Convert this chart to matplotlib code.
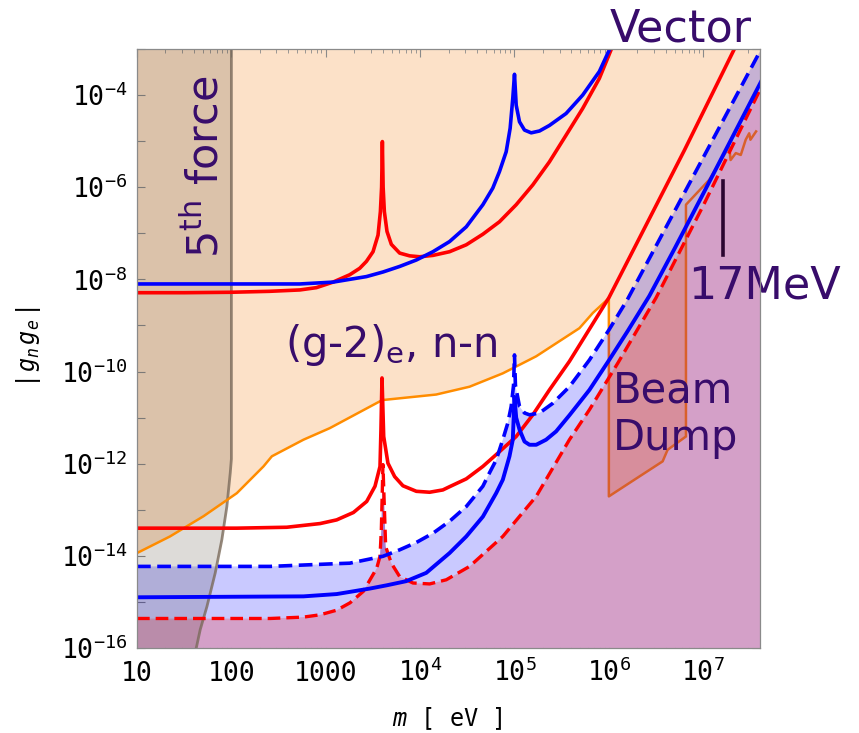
import numpy as np
import matplotlib
matplotlib.use('Agg')
import matplotlib.pyplot as plt

plt.rcParams['mathtext.fontset'] = 'custom'
plt.rcParams['mathtext.rm'] = 'DejaVu Sans Mono'
plt.rcParams['mathtext.it'] = 'DejaVu Sans Mono:italic'
plt.rcParams['mathtext.sf'] = 'DejaVu Sans'

# all curves as log10(m/eV), log10|g_n g_e|
orange_lm = [1.0, 1.349, 1.705, 2.058, 2.34, 2.429, 2.764, 3.042, 3.571, 3.6, 4.17, 4.524, 4.876, 5.23, 5.688, 5.83, 6.0, 6.0]
orange_lg = [-13.94, -13.58, -13.14, -12.64, -12.06, -11.84, -11.48, -11.23, -10.65, -10.62, -10.50, -10.33, -10.04, -9.67, -9.06, -8.73, -8.41, -9.2]

fifth_lm = [1.0, 2.0, 2.0, 1.988, 1.952, 1.899, 1.829, 1.741, 1.67, 1.628, 1.0]
fifth_lg = [-3.0, -3.0, -11.9, -12.20, -12.93, -13.65, -14.37, -15.10, -15.60, -16.0, -16.0]

red_top_lm = [1.0, 1.5, 2.0, 2.4, 2.725, 2.901, 3.077, 3.254, 3.36, 3.431, 3.501, 3.554, 3.579, 3.592, 3.600,
              3.608, 3.621, 3.649, 3.695, 3.783, 3.889, 3.995, 4.136, 4.312, 4.489, 4.665, 4.841, 5.018,
              5.194, 5.37, 5.547, 5.723, 5.899, 6.023]
red_top_lg = [-8.29, -8.29, -8.28, -8.26, -8.23, -8.18, -8.06, -7.90, -7.76, -7.61, -7.40, -7.04, -6.53, -6.0, -5.01,
              -6.0, -6.53, -6.96, -7.24, -7.43, -7.49, -7.51, -7.48, -7.40, -7.25, -7.02, -6.75, -6.38,
              -5.95, -5.45, -4.87, -4.29, -3.64, -3.02]

blue_top_lm = [1.0, 2.0, 2.5, 2.725, 3.077, 3.431, 3.607, 3.783, 3.96, 4.136, 4.312, 4.489, 4.665, 4.77, 4.841,
               4.912, 4.954, 4.982, 5.0, 5.018, 5.053, 5.106, 5.177, 5.265, 5.37, 5.547, 5.723, 5.899, 6.005]
blue_top_lg = [-8.10, -8.10, -8.10, -8.10, -8.06, -7.94, -7.84, -7.72, -7.58, -7.40, -7.18, -6.86, -6.38, -6.02, -5.66,
               -5.23, -4.72, -4.07, -3.55, -4.22, -4.58, -4.76, -4.82, -4.78, -4.66, -4.40, -4.00, -3.49, -3.02]

red_mid_lm = [1.0, 2.058, 2.587, 2.94, 3.116, 3.293, 3.434, 3.522, 3.575, 3.585, 3.596, 3.614, 3.659, 3.73, 3.818,
              3.96, 4.101, 4.241, 4.312, 4.489, 4.665, 4.841, 5.018, 5.194, 5.37, 5.582, 6.0, 6.4, 6.8, 7.33]
red_mid_lg = [-13.40, -13.40, -13.38, -13.30, -13.22, -13.06, -12.82, -12.49, -12.06, -11.27, -10.14, -11.41, -11.99,
              -12.28, -12.48, -12.60, -12.62, -12.57, -12.50, -12.33, -12.06, -11.74, -11.41, -10.94, -10.40, -9.78,
              -8.40, -6.80, -5.20, -3.0]

red_lo_lm = [1.0, 2.411, 2.764, 2.94, 3.116, 3.257, 3.399, 3.469, 3.54, 3.575, 3.589, 3.606, 3.635, 3.695, 3.783,
             3.924, 4.101, 4.277, 4.524, 4.876, 5.23, 5.582, 5.794, 6.1, 6.5, 7.0, 7.61]
red_lo_lg = [-15.36, -15.36, -15.33, -15.28, -15.18, -15.02, -14.77, -14.52, -14.27, -14.01, -13.43, -12.02, -13.80,
             -14.16, -14.45, -14.59, -14.61, -14.52, -14.23, -13.58, -12.71, -11.48, -10.83, -9.80, -8.40, -6.40, -3.85]

blue_dash_lm = [1.0, 2.196, 2.411, 3.116, 3.254, 3.607, 3.783, 3.96, 4.136, 4.312, 4.489, 4.665, 4.735, 4.806, 4.876,
                4.929, 4.965, 4.99, 5.0, 5.01, 5.053, 5.106, 5.159, 5.265, 5.406, 5.582, 5.794, 6.0, 6.196, 6.9, 7.61]
blue_dash_lg = [-14.23, -14.23, -14.23, -14.17, -14.16, -14.01, -13.87, -13.71, -13.51, -13.25, -12.93, -12.49, -12.20,
                -11.92, -11.48, -11.12, -10.76, -10.3, -9.64, -10.3, -10.76, -10.90, -10.94, -10.90, -10.69, -10.33,
                -9.75, -9.10, -8.44, -5.74, -3.02]

blue_sol_lm = [1.0, 2.764, 3.116, 3.293, 3.469, 3.646, 3.853, 4.065, 4.312, 4.489, 4.665, 4.806, 4.876, 4.947, 4.982,
               5.0, 5.018, 5.053, 5.106, 5.159, 5.23, 5.335, 5.441, 5.582, 5.794, 6.0, 6.2, 6.429, 6.7, 7.0, 7.61]
blue_sol_lg = [-14.90, -14.88, -14.83, -14.77, -14.71, -14.64, -14.55, -14.37, -13.94, -13.58, -13.15, -12.64, -12.35,
               -11.84, -11.48, -10.55, -11.0, -11.26, -11.52, -11.59, -11.59, -11.48, -11.30, -10.95, -10.40, -9.76,
               -9.12, -8.36, -7.32, -6.14, -3.72]

beam_lm = [6.0, 6.0, 6.217, 6.57, 6.622, 6.817, 6.817, 7.064, 7.275, 7.29, 7.345, 7.398, 7.45, 7.487, 7.5, 7.56]
beam_lg = [-9.2, -12.71, -12.42, -11.95, -11.70, -11.41, -6.38, -5.84, -5.12, -5.41, -5.26, -5.30, -4.97, -4.83, -4.97, -4.79]
beam_fill_lm = [6.0, 6.0, 6.217, 6.57, 6.622, 6.817, 6.817, 6.5, 6.1, 6.0]
beam_fill_lg = [-10.1, -12.71, -12.42, -11.95, -11.70, -11.41, -7.13, -8.40, -9.80, -10.1]

mark_lm = [7.21, 7.21]   # 17 MeV
mark_lg = [-5.86, -7.47]

x_ticks = [1e1, 1e2, 1e3, 1e4, 1e5, 1e6, 1e7]
x_labels = ['10', '100', '1000', '$10^4$', '$10^5$', '$10^6$', '$10^7$']
y_exps = list(range(-16, -2))

XMIN, XMAX, YMIN, YMAX = 10, 4e7, 1e-16, 1e-3
txt_col = '#380c6b'

def P(lm, lg):
    return 10 ** np.asarray(lm, float), 10 ** np.asarray(lg, float)

fig = plt.figure(figsize=(8.59, 7.33), dpi=100)
ax = fig.add_axes([0.1595, 0.116, 0.7253, 0.8172])
ax.set_xscale('log')
ax.set_yscale('log')
ax.set_xlim(XMIN, XMAX)
ax.set_ylim(YMIN, YMAX)

# peach excluded region
ox, oy = P(orange_lm[:-1], orange_lg[:-1])
px = np.concatenate([ox, [1e6, XMAX, XMAX, XMIN]])
py = np.concatenate([oy, [YMIN, YMIN, YMAX, YMAX]])
ax.fill(px, py, color='#fce1c8', lw=0, zorder=1)

# purple region below red dashed
rx, ry = P(red_lo_lm, red_lo_lg)
ax.fill(np.concatenate([rx, [XMAX, XMIN]]), np.concatenate([ry, [YMIN, YMIN]]),
        color='#d4a0c8', lw=0, zorder=2)

# beam dump fill
bx, by = P(beam_fill_lm, beam_fill_lg)
ax.fill(bx, by, color='#e0602a', alpha=0.28, lw=0, zorder=3)

# blue band
bdx, bdy = P(blue_dash_lm, blue_dash_lg)
ax.fill(np.concatenate([bdx, rx[::-1]]), np.concatenate([bdy, ry[::-1]]),
        color='blue', alpha=0.21, lw=0, zorder=4)

# 5th force
fx, fy = P(fifth_lm, fifth_lg)
ax.fill(fx, fy, color='#3a2a1a', alpha=0.17, lw=0, zorder=5)
ax.plot(fx[1:-1], fy[1:-1], color='#7a6a5a', lw=2, alpha=0.8, zorder=6)

# lines
x, y = P(orange_lm, orange_lg)
ax.plot(x, y, color='#ff8c00', lw=1.8, zorder=7)
x, y = P(beam_lm, beam_lg)
ax.plot(x, y, color='#d9602b', lw=1.8, zorder=7)

x, y = P(red_top_lm, red_top_lg)
ax.plot(x, y, color='red', lw=2.6, zorder=8)
x, y = P(blue_top_lm, blue_top_lg)
ax.plot(x, y, color='blue', lw=2.6, zorder=8)
x, y = P(red_mid_lm, red_mid_lg)
ax.plot(x, y, color='red', lw=2.6, zorder=8)
ax.plot(rx, ry, color='red', lw=2.4, dashes=(3.8, 1.8), zorder=8)
ax.plot(bdx, bdy, color='blue', lw=2.6, dashes=(3.8, 1.8), zorder=9)
x, y = P(blue_sol_lm, blue_sol_lg)
ax.plot(x, y, color='blue', lw=2.8, zorder=9)

x, y = P(mark_lm, mark_lg)
ax.plot(x, y, color='#2a0530', lw=2.6, zorder=10)

# texts
ax.text(0.872, 1.012, 'Vector', transform=ax.transAxes, fontsize=32, color=txt_col,
        ha='center', va='baseline', clip_on=False)
ax.text(0.884, 0.584, '17MeV', transform=ax.transAxes, fontsize=32, color=txt_col,
        ha='left', va='baseline', clip_on=False, zorder=11)
ax.text(0.13, 0.803, r'5$^{\mathsf{th}}$ force', transform=ax.transAxes, fontsize=31,
        color=txt_col, rotation=90, rotation_mode='anchor', ha='center', va='baseline', zorder=11)
ax.text(0.2376, 0.486, r'(g-2)$_{\mathsf{e}}$, n-n', transform=ax.transAxes, fontsize=30,
        color=txt_col, ha='left', va='baseline', zorder=11)
ax.text(0.764, 0.409, 'Beam', transform=ax.transAxes, fontsize=30, color=txt_col,
        ha='left', va='baseline', zorder=11)
ax.text(0.764, 0.331, 'Dump', transform=ax.transAxes, fontsize=30, color=txt_col,
        ha='left', va='baseline', zorder=11)

# axes styling
ax.set_xticks(x_ticks)
ax.set_xticklabels(x_labels)
ax.set_yticks([10.0 ** e for e in y_exps])
ax.set_yticklabels(['$10^{%d}$' % e if e % 2 == 0 else '' for e in y_exps])
ax.yaxis.set_minor_locator(matplotlib.ticker.NullLocator())
ax.xaxis.set_minor_locator(matplotlib.ticker.LogLocator(base=10, subs=np.arange(2, 10)))
ax.xaxis.set_minor_formatter(matplotlib.ticker.NullFormatter())
ax.tick_params(which='both', direction='in', top=True, right=True, color='#8a8a8a')
ax.tick_params(which='major', length=6, width=0.8, labelsize=19)
ax.tick_params(which='minor', length=3, width=0.6)
ax.tick_params(axis='x', which='major', pad=24)
ax.tick_params(axis='y', which='major', pad=7)
for lab in ax.get_xticklabels() + ax.get_yticklabels():
    lab.set_family('DejaVu Sans Mono')
for lab in ax.get_xticklabels():
    lab.set_verticalalignment('baseline')
for s in ax.spines.values():
    s.set_color('#8a8a8a')
    s.set_linewidth(0.9)
    s.set_zorder(12)

ax.set_xlabel(r'$m$ [ eV ]', fontsize=17, family='DejaVu Sans Mono')
ax.xaxis.set_label_coords(0.498, -0.095)
ax.set_ylabel(r'$|\,g_n\,g_e\,|$', fontsize=17)
ax.yaxis.set_label_coords(-0.151, 0.502)

fig.savefig('out.png', dpi=100)
